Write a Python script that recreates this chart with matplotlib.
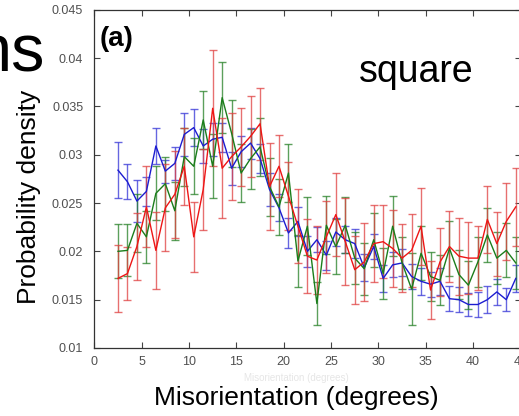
import numpy as np
import matplotlib
matplotlib.use("Agg")
import matplotlib.pyplot as plt

plt.rcParams["font.family"] = ["Liberation Sans", "DejaVu Sans"]

# bin centres (degrees)
angle = np.arange(2.5, 45.0, 1.0)

blue_vals = [0.0284, 0.0272, 0.0252, 0.0262, 0.0309, 0.0283, 0.0291, 0.0321, 0.0328, 0.0309,
             0.0316, 0.0318, 0.0286, 0.0303, 0.0312, 0.0296, 0.0264, 0.0245, 0.0219, 0.0231,
             0.0200, 0.0212, 0.0196, 0.0220, 0.0212, 0.0208, 0.0183, 0.0205, 0.0172, 0.0186,
             0.0188, 0.0174, 0.0169, 0.0166, 0.0169, 0.0151, 0.0150, 0.0145, 0.0145, 0.0150,
             0.0158, 0.0150, 0.0172]
blue_err = [0.0029, 0.0018, 0.0022, 0.0015, 0.0019, 0.0012, 0.0017, 0.0022, 0.0019, 0.0018,
            0.0017, 0.0015, 0.0017, 0.0016, 0.0016, 0.0015, 0.0017, 0.0014, 0.0016, 0.0015,
            0.0016, 0.0013, 0.0015, 0.0014, 0.0014, 0.0015, 0.0014, 0.0013, 0.0014, 0.0013,
            0.0014, 0.0013, 0.0014, 0.0013, 0.0014, 0.0013, 0.0013, 0.0012, 0.0013, 0.0014,
            0.0013, 0.0012, 0.0014]

green_vals = [0.0200, 0.0201, 0.0229, 0.0215, 0.0260, 0.0270, 0.0242, 0.0298, 0.0288, 0.0336,
              0.0288, 0.0359, 0.0322, 0.0281, 0.0296, 0.0308, 0.0267, 0.0246, 0.0281, 0.0190,
              0.0226, 0.0146, 0.0227, 0.0205, 0.0227, 0.0193, 0.0182, 0.0212, 0.0177, 0.0226,
              0.0188, 0.0161, 0.0198, 0.0174, 0.0170, 0.0203, 0.0176, 0.0165, 0.0189, 0.0217,
              0.0193, 0.0201, 0.0188]
green_err = [0.0028, 0.0027, 0.0030, 0.0027, 0.0028, 0.0028, 0.0030, 0.0030, 0.0029, 0.0030,
             0.0033, 0.0037, 0.0035, 0.0030, 0.0031, 0.0030, 0.0030, 0.0029, 0.0030, 0.0027,
             0.0030, 0.0022, 0.0030, 0.0028, 0.0029, 0.0027, 0.0027, 0.0028, 0.0026, 0.0031,
             0.0027, 0.0037, 0.0028, 0.0025, 0.0026, 0.0028, 0.0025, 0.0025, 0.0026, 0.0028,
             0.0027, 0.0028, 0.0027]

red_vals = [0.0172, 0.0177, 0.0205, 0.0246, 0.0201, 0.0245, 0.0259, 0.0288, 0.0215, 0.0264,
            0.0348, 0.0286, 0.0298, 0.0308, 0.0319, 0.0332, 0.0267, 0.0288, 0.0257, 0.0226,
            0.0195, 0.0191, 0.0215, 0.0238, 0.0210, 0.0181, 0.0189, 0.0208, 0.0210, 0.0203,
            0.0193, 0.0201, 0.0226, 0.0160, 0.0189, 0.0205, 0.0195, 0.0193, 0.0193, 0.0233,
            0.0208, 0.0231, 0.0246]
red_err = [0.0035, 0.0027, 0.0035, 0.0042, 0.0040, 0.0045, 0.0045, 0.0040, 0.0036, 0.0042,
           0.0060, 0.0052, 0.0045, 0.0040, 0.0042, 0.0037, 0.0045, 0.0032, 0.0035, 0.0038,
           0.0038, 0.0035, 0.0037, 0.0043, 0.0045, 0.0035, 0.0040, 0.0040, 0.0038, 0.0040,
           0.0035, 0.0038, 0.0040, 0.0030, 0.0035, 0.0037, 0.0040, 0.0037, 0.0033, 0.0035,
           0.0033, 0.0040, 0.0040]

xticks = [0, 5, 10, 15, 20, 25, 30, 35, 40, 45]
yticks = [0.01, 0.015, 0.02, 0.025, 0.03, 0.035, 0.04, 0.045]
ytick_labels = ["0.01", "0.015", "0.02", "0.025", "0.03", "0.035", "0.04", "0.045"]

W, H = 519, 416
fig = plt.figure(figsize=(W / 100, H / 100), dpi=100)
ax = fig.add_axes([94.3 / W, 68 / H, 426.2 / W, 338.3 / H])

series = [
    (blue_vals, blue_err, "#1c1cd0", (0.25, 0.25, 0.85, 0.8)),
    (green_vals, green_err, "#1b7d1b", (0.15, 0.5, 0.15, 0.75)),
    (red_vals, red_err, "#ee1515", (0.88, 0.25, 0.25, 0.75)),
]
for vals, err, col, ecol in series:
    ax.errorbar(angle, vals, yerr=err, color=col, lw=1.0, ecolor=ecol,
                elinewidth=1.0, capsize=2.6, capthick=1.0)

ax.set_xlim(0, 45)
ax.set_ylim(0.01, 0.045)
ax.set_xticks(xticks)
ax.set_xticklabels([str(t) for t in xticks])
ax.set_yticks(yticks)
ax.set_yticklabels(ytick_labels)
ax.tick_params(direction="in", length=4, width=0.8, top=True, right=True,
               colors="#444444", labelcolor="#505050", labelsize=9)
ax.tick_params(axis="y", pad=8.0)
ax.tick_params(axis="x", pad=5.6)
for s in ax.spines.values():
    s.set_color("#333333")
    s.set_linewidth(0.9)

# labels and annotations
fig.text(296.5 / W, 1 - 378 / H, "Misorientation (degrees)", ha="center", va="center",
         fontsize=7, color="#e6e6e6")
fig.text(296.5 / W, 1 - 405 / H, "Misorientation (degrees)", ha="center", va="baseline",
         fontsize=19, color="black")
fig.text(28.6 / W, 1 - 196.5 / H, "Probability density", rotation=90, ha="center",
         va="center", fontsize=19, color="black")
fig.text(45 / W, 1 - 72 / H, "ns", ha="right", va="baseline", fontsize=48, color="black")
fig.text(100 / W, 1 - 46.5 / H, "(a)", ha="left", va="baseline", fontsize=20,
         fontweight="bold", color="black")
fig.text(359 / W, 1 - 82 / H, "square", ha="left", va="baseline", fontsize=27,
         color="black")

fig.savefig("out.png", dpi=100)
